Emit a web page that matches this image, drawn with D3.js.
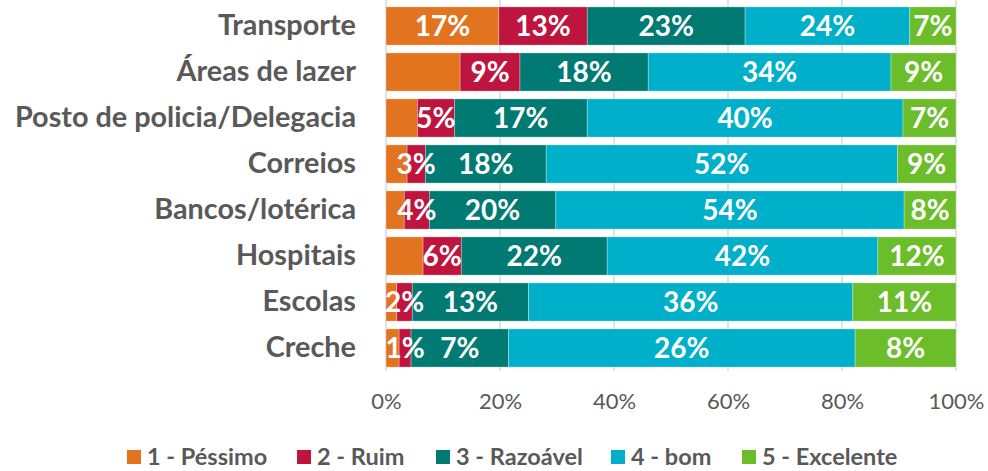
<!DOCTYPE html>
<html>
<head>
<meta charset="utf-8">
<script src="https://cdn.jsdelivr.net/npm/d3@7"></script>
<style>
  html, body { margin: 0; padding: 0; background: #ffffff; }
  svg { display: block; }
</style>
</head>
<body>
<svg id="chart" width="988" height="471"></svg>
<script>
// ---- DATA ----
const categories = ["Transporte", "Áreas de lazer", "Posto de policia/Delegacia", "Correios",
  "Bancos/lotérica", "Hospitais", "Escolas", "Creche"];
const seriesNames = ["1 - Péssimo", "2 - Ruim", "3 - Razoável", "4 - bom", "5 - Excelente"];
// share of each bar
const pessimo   = [19.8, 13.0, 5.5, 3.7, 3.2, 6.5, 1.9, 2.3];
const ruim      = [15.5, 10.5, 6.5, 3.2, 4.4, 6.7, 2.7, 2.1];
const razoavel  = [27.7, 22.5, 23.3, 21.2, 22.2, 25.6, 20.4, 17.1];
const bom       = [28.9, 42.6, 55.4, 61.6, 61.1, 47.5, 56.9, 60.8];
const excelente = [8.1, 11.4, 9.3, 10.3, 9.1, 13.7, 18.1, 17.7];
// data labels printed on the segments (null = no label shown)
const pessimoLabels   = ["17%", null, null, null, null, null, null, null];
const ruimLabels      = ["13%", "9%", "5%", "3%", "4%", "6%", "2%", "1%"];
const razoavelLabels  = ["23%", "18%", "17%", "18%", "20%", "22%", "13%", "7%"];
const bomLabels       = ["24%", "34%", "40%", "52%", "54%", "42%", "36%", "26%"];
const excelenteLabels = ["7%", "9%", "7%", "9%", "8%", "12%", "11%", "8%"];
const xTicks = [0, 0.2, 0.4, 0.6, 0.8, 1.0];
const colors = ["#E2731F", "#BE143E", "#007A73", "#00AFC9", "#6BBE2A"];

// ---- BUILD ----
const seriesValues = [pessimo, ruim, razoavel, bom, excelente];
const seriesLabels = [pessimoLabels, ruimLabels, razoavelLabels, bomLabels, excelenteLabels];
const keys = seriesNames;
const table = categories.map((c, i) => {
  const row = { category: c };
  const total = d3.sum(seriesValues, s => s[i]);
  keys.forEach((k, j) => { row[k] = seriesValues[j][i] / total; });
  return row;
});
const stacked = d3.stack().keys(keys)(table);

const svg = d3.select("#chart");
const m = { left: 386, right: 32, top: 3, bottom: 100 };
const W = 988, H = 471;
const x = d3.scaleLinear().domain([0, 1]).range([m.left, W - m.right]);
const y = d3.scaleBand().domain(categories).range([m.top, H - m.bottom])
  .paddingInner(0.17).paddingOuter(0.085);
const color = d3.scaleOrdinal().domain(keys).range(colors);

const textGray = "#595959";
const fontFam = "Lato, 'Open Sans', sans-serif";

// gridlines
svg.append("g").selectAll("line").data(xTicks).join("line")
  .attr("x1", d => x(d)).attr("x2", d => x(d))
  .attr("y1", 0).attr("y2", H - m.bottom)
  .attr("stroke", "#D9D9D9").attr("stroke-width", 1.5);

// bars
const groups = svg.append("g").selectAll("g").data(stacked).join("g")
  .attr("fill", d => color(d.key));
groups.selectAll("rect").data(d => d).join("rect")
  .attr("x", d => x(d[0]))
  .attr("y", d => y(d.data.category))
  .attr("width", d => x(d[1]) - x(d[0]))
  .attr("height", y.bandwidth())
  .attr("stroke", "#ffffff").attr("stroke-opacity", 0.5).attr("stroke-width", 0.6);

// data labels
stacked.forEach((s, j) => {
  svg.append("g").selectAll("text").data(s).join("text")
    .filter((d, i) => seriesLabels[j][i] !== null)
    .attr("x", d => (x(d[0]) + x(d[1])) / 2)
    .attr("y", d => y(d.data.category) + y.bandwidth() / 2)
    .attr("dy", "0.36em")
    .attr("text-anchor", "middle")
    .attr("fill", "#ffffff")
    .attr("font-family", fontFam)
    .attr("font-weight", 700)
    .attr("font-size", 28)
    .text(d => seriesLabels[j][categories.indexOf(d.data.category)]);
});

// y axis (category labels)
const yAxis = d3.axisLeft(y).tickSize(0).tickPadding(30);
const gy = svg.append("g").attr("transform", `translate(${m.left},0)`).call(yAxis);
gy.select(".domain").remove();
gy.selectAll("text")
  .attr("fill", textGray)
  .attr("font-family", fontFam)
  .attr("font-weight", 700)
  .attr("font-size", 28.8);

// x axis
const xAxis = d3.axisBottom(x).tickValues(xTicks).tickFormat(d3.format(".0%")).tickSize(0).tickPadding(22);
const gx = svg.append("g").attr("transform", `translate(0,${H - m.bottom})`).call(xAxis);
gx.select(".domain").remove();
gx.selectAll("text")
  .attr("fill", textGray)
  .attr("font-family", fontFam)
  .attr("font-size", 22);

// legend
const legendX = [127, 297, 436, 611, 742];
const lg = svg.append("g").selectAll("g").data(keys).join("g")
  .attr("transform", (d, i) => `translate(${legendX[i]},457)`);
lg.append("rect").attr("x", 0).attr("y", -7).attr("width", 14).attr("height", 14)
  .attr("fill", d => color(d));
lg.append("text").attr("x", 20).attr("y", 0).attr("dy", "0.36em")
  .attr("fill", textGray)
  .attr("font-family", fontFam)
  .attr("font-weight", 700)
  .attr("font-size", 23.5)
  .text(d => d);
</script>
</body>
</html>
